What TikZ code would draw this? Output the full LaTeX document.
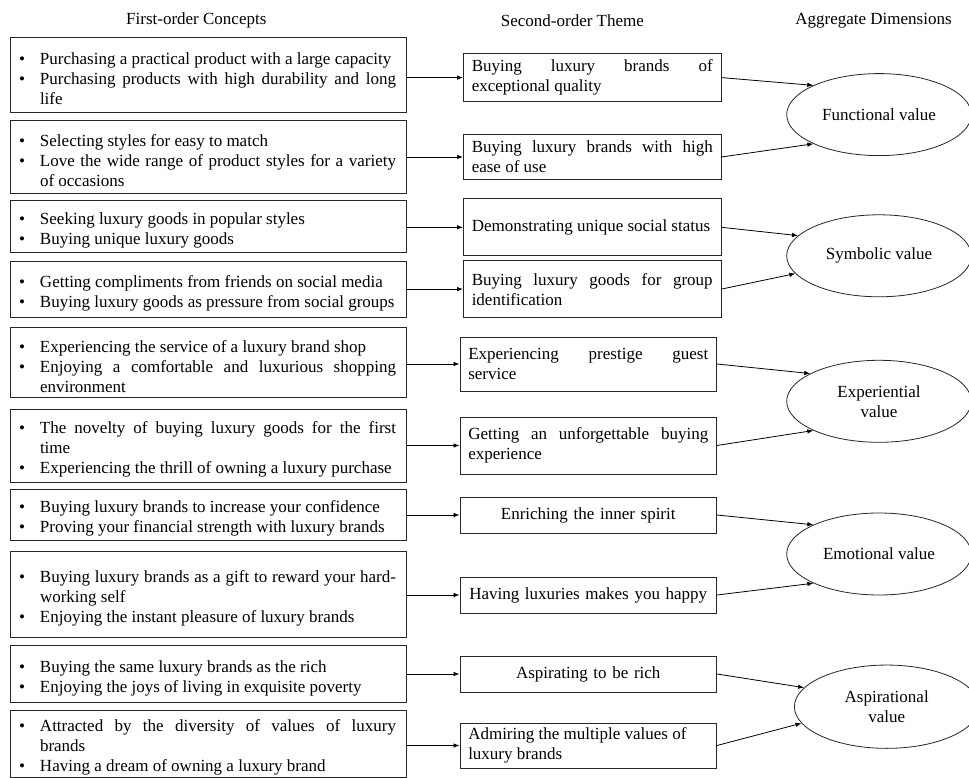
\documentclass[tikz,border=0pt]{standalone}
\usepackage{fontspec}
\setmainfont{Liberation Serif}
\usetikzlibrary{shapes.geometric,arrows.meta}
\hyphenpenalty=10000
\tolerance=10000
\hbadness=10000
\newcommand{\bitem}[1]{\par\noindent\hangindent=20pt\hangafter=1\makebox[20pt][l]{\kern-1pt\textbullet}#1\par}
\begin{document}
\begin{tikzpicture}[x=1pt,y=-1pt,
  txt/.style={font=\fontsize{17}{20}\selectfont},
  hdr/.style={txt, inner sep=0pt},
  lbox/.style={txt, draw=black!85, line width=0.9pt, rectangle, inner xsep=10pt, inner ysep=0pt, text width=376pt, align=justify},
  mbox/.style={txt, draw=black!85, line width=0.9pt, rectangle, inner xsep=8.25pt, inner ysep=0pt},
  mboxa/.style={mbox, text width=241pt},
  mboxb/.style={mbox, text width=240pt},
  ebox/.style={txt, draw=black!85, line width=0.8pt, ellipse, inner sep=0pt, minimum width=184.6pt, minimum height=82pt, align=center},
  arr/.style={-{Latex[length=6pt,width=4.5pt]}, line width=0.8pt, black}]
\fill[white] (0,0) rectangle (969,778);
\useasboundingbox (0,0) rectangle (969,778);

% headers
\node[hdr] (h1) at (196.3,20.5) {First-order Concepts};
\node[hdr] (h2) at (572.4,21) {Second-order Theme};
\node[hdr] (h3) at (873.5,21) {Aggregate Dimensions};

% first-order concepts
\node[lbox, minimum height=75.4pt] (L1) at (208,75) {\bitem{Purchasing a practical product with a large capacity}\bitem{Purchasing products with high durability and long\linebreak life}};
\node[lbox, minimum height=72.6pt] (L2) at (208,157) {\bitem{Selecting styles for easy to match}\bitem{Love the wide range of product styles for a variety\linebreak of occasions}};
\node[lbox, minimum height=52pt] (L3) at (208,226.7) {\bitem{Seeking luxury goods in popular styles}\bitem{Buying unique luxury goods}};
\node[lbox, minimum height=56.7pt] (L4) at (208,289.3) {\bitem{Getting compliments from friends on social media}\bitem{Buying luxury goods as pressure from social groups}};
\node[lbox, minimum height=70pt] (L5) at (208,362.3) {\bitem{Experiencing the service of a luxury brand shop}\bitem{Enjoying a comfortable and luxurious shopping\linebreak environment}};
\node[lbox, minimum height=73pt] (L6) at (208,445.5) {\bitem{The novelty of buying luxury goods for the first\linebreak time}\bitem{Experiencing the thrill of owning a luxury purchase}};
\node[lbox, minimum height=51pt] (L7) at (208,514.8) {\bitem{Buying luxury brands to increase your confidence}\bitem{Proving your financial strength with luxury brands}};
\node[lbox, minimum height=85.6pt] (L8) at (208,594.5) {\bitem{Buying luxury brands as a gift to reward your hard-\linebreak{}working self}\bitem{Enjoying the instant pleasure of luxury brands}};
\node[lbox, minimum height=56.3pt] (L9) at (208,673.9) {\bitem{Buying the same luxury brands as the rich}\bitem{Enjoying the joys of living in exquisite poverty}};
\node[lbox, minimum height=67pt] (L10) at (208,743.5) {\bitem{Attracted by the diversity of values of luxury\linebreak brands}\bitem{Having a dream of owning a luxury brand}};

% second-order themes
\node[mboxa, align=justify, minimum height=48.2pt] (M1) at (592.25,77.6) {Buying luxury brands of\linebreak exceptional quality};
\node[mboxa, align=justify, minimum height=45.3pt] (M2) at (592.25,157) {Buying luxury brands with high\linebreak ease of use};
\node[mboxa, align=justify, minimum height=56.7pt] (M3) at (592.25,227.3) {Demonstrating unique social status};
\node[mboxa, align=justify, minimum height=56.8pt] (M4) at (592.25,289.1) {Buying luxury goods for group\linebreak identification};
\node[mboxb, align=justify, minimum height=54pt] (M5) at (588.25,364) {Experiencing prestige guest\linebreak service};
\node[mboxb, align=justify, minimum height=57pt] (M6) at (588.25,445.5) {Getting an unforgettable buying\linebreak experience};
\node[mboxb, align=center, minimum height=36pt] (M7) at (588.25,515) {Enriching the inner spirit};
\node[mboxb, align=center, minimum height=36pt] (M8) at (588.25,595) {Having luxuries makes you happy};
\node[mboxb, align=center, minimum height=36pt] (M9) at (588.25,674) {Aspirating to be rich};
\node[mboxb, align=flush left, minimum height=45pt] (M10) at (588.25,745.5) {Admiring the multiple values of\\luxury brands};

% aggregate dimensions
\node[ebox] (E1) at (879,114.6) {Functional value};
\node[ebox] (E2) at (879,255.8) {Symbolic value};
\node[ebox] (E3) at (879,401.3) {Experiential\\value};
\node[ebox] (E4) at (879,554) {Emotional value};
\node[ebox, minimum height=83.3pt] (E5) at (886.7,706.7) {Aspirational\\value};

% connectors
\foreach \i in {1,...,10} {\draw[arr] (L\i.east |- M\i.west) -- (M\i.west);}
\draw[arr] (M1.east) -- (E1.156);
\draw[arr] (M2.east) -- (E1.204);
\draw[arr] (M3.east) -- (E2.166);
\draw[arr] (M4.east) -- (E2.192);
\draw[arr] (M5.east) -- (E3.158);
\draw[arr] (M6.east) -- (E3.204);
\draw[arr] (M7.east) -- (E4.156);
\draw[arr] (M8.east) -- (E4.204);
\draw[arr] (M9.east) -- (E5.167);
\draw[arr] (M10.east) -- (E5.191);
\end{tikzpicture}
\end{document}
